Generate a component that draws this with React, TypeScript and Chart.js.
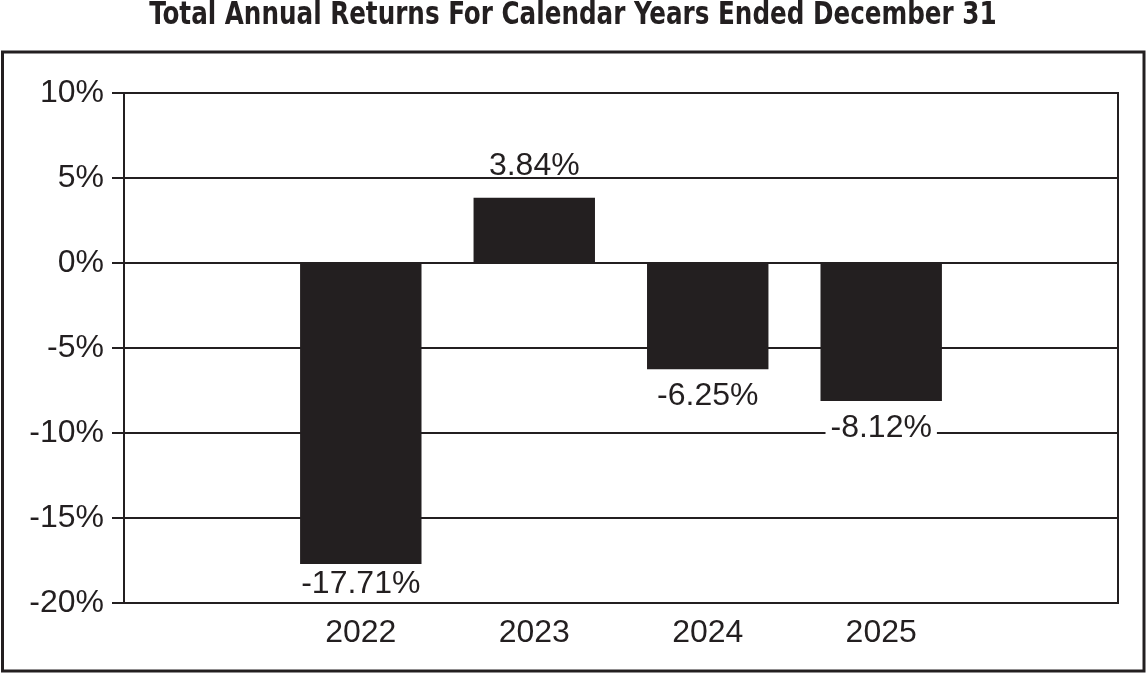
import React, { useEffect, useRef } from "react";
import { Chart, registerables } from "chart.js";

Chart.register(...registerables);

const TITLE = "Total Annual Returns For Calendar Years Ended December 31";
const YEARS = [2022, 2023, 2024, 2025];
const RETURNS = [-17.71, 3.84, -6.25, -8.12];
const Y_MIN = -20;
const Y_MAX = 10;
const Y_STEP = 5;

const INK = "#231f20";
const BODY_FONT = '"Liberation Sans", Arial, Helvetica, sans-serif';
const TITLE_FONT = '"DejaVu Sans Condensed", "DejaVu Sans", sans-serif';
const FONT_SIZE = 32;

const frameBox = {
  id: "frameBox",
  beforeDraw(chart: any) {
    const ctx = chart.ctx;
    ctx.save();
    ctx.strokeStyle = INK;
    ctx.lineWidth = 3;
    ctx.strokeRect(2.5, 52, 1141.5, 619);
    ctx.restore();
  },
};

const barLabels = {
  id: "barLabels",
  afterDatasetsDraw(chart: any) {
    const ctx = chart.ctx;
    const meta = chart.getDatasetMeta(0);
    const area = chart.chartArea;
    ctx.save();
    ctx.font = `${FONT_SIZE}px ${BODY_FONT}`;
    ctx.textAlign = "center";
    ctx.textBaseline = "alphabetic";
    meta.data.forEach((bar: any, i: number) => {
      const v = RETURNS[i];
      const text = `${v.toFixed(2)}%`;
      let baseline: number;
      if (v >= 0) {
        baseline = bar.y - 23;
      } else {
        baseline = Math.min(bar.y + 36, area.bottom - 10);
      }
      const w = ctx.measureText(text).width;
      ctx.fillStyle = "#ffffff";
      ctx.fillRect(bar.x - w / 2 - 5, baseline - 25, w + 10, 27);
      ctx.fillStyle = INK;
      ctx.fillText(text, bar.x, baseline);
    });
    ctx.restore();
  },
};

export default function App() {
  const ref = useRef<HTMLCanvasElement | null>(null);

  useEffect(() => {
    document.body.style.margin = "0";
    if (!ref.current) return;
    const chart = new Chart(ref.current, {
      type: "bar",
      data: {
        datasets: [
          {
            data: YEARS.map((y, i) => ({ x: y, y: RETURNS[i] })),
            backgroundColor: INK,
            borderWidth: 0,
            barPercentage: 0.7,
            categoryPercentage: 1,
          },
        ],
      },
      options: {
        animation: false,
        responsive: true,
        maintainAspectRatio: false,
        layout: { padding: { top: 93, left: 0, right: 28, bottom: 0 } },
        plugins: {
          legend: { display: false },
          tooltip: { enabled: false },
          title: { display: false },
        },
        scales: {
          x: {
            type: "linear",
            offset: false,
            min: 2020.635,
            max: 2026.365,
            afterBuildTicks: (scale: any) => {
              scale.ticks = YEARS.map((v) => ({ value: v }));
            },
            afterFit: (scale: any) => {
              scale.height = 70;
            },
            grid: { display: false, drawTicks: false },
            border: { display: true, color: INK, width: 2 },
            ticks: {
              color: INK,
              padding: 11,
              font: { family: BODY_FONT, size: FONT_SIZE },
              callback: (v: any) => String(v),
              maxRotation: 0,
              autoSkip: false,
            },
          },
          y: {
            min: Y_MIN,
            max: Y_MAX,
            afterFit: (scale: any) => {
              scale.width = 124;
            },
            ticks: {
              stepSize: Y_STEP,
              color: INK,
              padding: 8,
              font: { family: BODY_FONT, size: FONT_SIZE },
              callback: (v: any) => `${v}%`,
            },
            grid: { color: INK, lineWidth: 2, tickLength: 12, drawTicks: true },
            border: { display: true, color: INK, width: 2 },
          },
          yRight: {
            position: "right",
            min: Y_MIN,
            max: Y_MAX,
            afterFit: (scale: any) => {
              scale.width = 0;
            },
            ticks: { display: false },
            grid: { drawOnChartArea: false, drawTicks: false },
            border: { display: true, color: INK, width: 2 },
          },
        },
      },
      plugins: [frameBox, barLabels],
    } as any);
    return () => chart.destroy();
  }, []);

  return (
    <div style={{ position: "relative", width: 1146, height: 673, background: "#ffffff" }}>
      <canvas ref={ref} />
      <div
        style={{
          position: "absolute",
          left: 0,
          top: 0,
          width: 1146,
          textAlign: "center",
          pointerEvents: "none",
        }}
      >
        <span
          style={{
            display: "inline-block",
            fontFamily: TITLE_FONT,
            fontWeight: "bold",
            fontSize: 32,
            lineHeight: "32px",
            color: INK,
            whiteSpace: "nowrap",
            transform: "scaleX(0.856)",
            transformOrigin: "center",
            position: "relative",
            left: 0,
            top: -3,
          }}
        >
          {TITLE}
        </span>
      </div>
    </div>
  );
}
